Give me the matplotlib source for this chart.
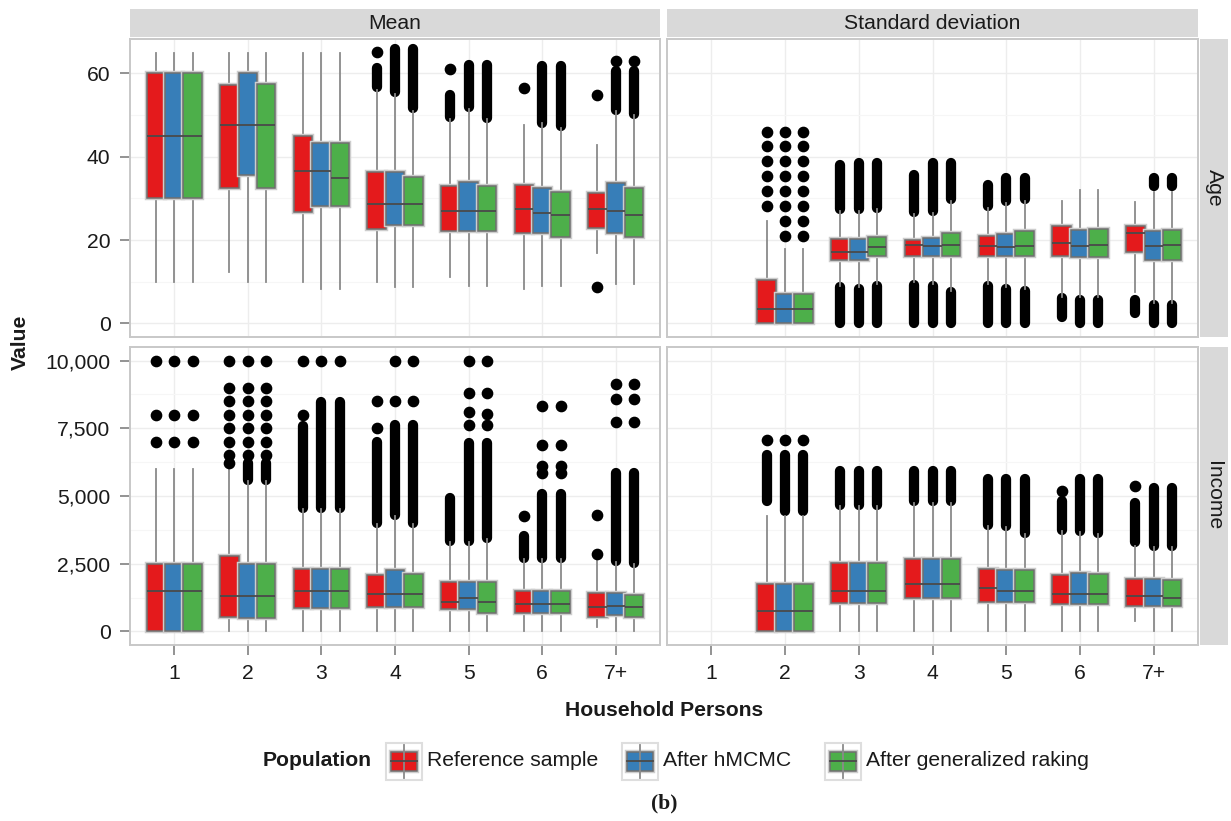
import matplotlib
matplotlib.use("Agg")
import matplotlib.pyplot as plt
from matplotlib.patches import Rectangle
from matplotlib.ticker import FuncFormatter
import matplotlib.patheffects as pe

plt.rcParams['font.family'] = ['Liberation Sans', 'DejaVu Sans']

# ---------------- data ----------------
categories = ["1", "2", "3", "4", "5", "6", "7+"]
series_names = ["Reference sample", "After hMCMC", "After generalized raking"]
series_colors = ["#E41A1C", "#377EB8", "#4DAF4A"]
col_labels = ["Mean", "Standard deviation"]
row_labels = ["Age", "Income"]
age_ticks = [0, 20, 40, 60]
income_ticks = [0, 2500, 5000, 7500, 10000]

# box stats per category: (lower whisker, Q1, median, Q3, upper whisker)
age_mean_ref_box = [(10, 30, 45, 60, 65), (12.3, 32.5, 47.6, 57.3, 65), (10, 26.8, 36.6, 45, 65),
                    (10, 22.6, 28.7, 36.3, 56), (11.1, 22.1, 26.9, 32.9, 49), (8.3, 21.6, 27.5, 33.2, 47.6),
                    (17, 23.0, 27.5, 31.4, 42.9)]
age_mean_ref_pts = [[], [], [], [65.1], [61.1], [56.6], [54.8, 8.7]]
age_mean_ref_runs = [[], [], [], [(56.8, 61.3)], [(49.5, 54.8)], [], []]

age_mean_hm_box = [(10, 30, 45, 60, 65), (9.9, 35.6, 47.6, 60, 65), (8.3, 28.2, 36.6, 43.3, 65),
                   (8.7, 23.7, 28.7, 36.3, 55), (9.1, 22.1, 26.9, 34.0, 51.5), (9.1, 21.6, 26.5, 32.5, 48),
                   (9.5, 21.6, 27.0, 33.6, 51)]
age_mean_hm_pts = [[], [], [], [], [], [], [62.9]]
age_mean_hm_runs = [[], [], [], [(55.5, 65.9)], [(52, 62.1)], [(48.2, 61.7)], [(51.2, 60.5)]]

age_mean_rk_box = [(10, 30, 45, 60, 65), (10, 32.4, 47.6, 57.5, 65), (8.3, 28.2, 34.9, 43.3, 65),
                   (8.7, 23.7, 28.7, 35.1, 51), (9.1, 22.1, 26.9, 32.9, 49), (9.1, 20.8, 26.0, 31.6, 47),
                   (9.5, 20.8, 26.0, 32.5, 50)]
age_mean_rk_pts = [[], [], [], [], [], [], [62.9]]
age_mean_rk_runs = [[], [], [], [(51.6, 65.9)], [(49.2, 62.1)], [(47.4, 61.7)], [(50.2, 60.5)]]

age_sd_ref_box = [None, (0, 0, 3.4, 10.5, 24.6), (9.1, 15.2, 17.2, 20.2, 27.0), (9.9, 16.3, 18.8, 20.1, 26.2),
                  (9.5, 16.1, 18.5, 21.0, 27.8), (6.3, 16.3, 19.3, 23.3, 29.4), (7.5, 17.1, 21.6, 23.3, 29.2)]
age_sd_ref_pts = [[], [28.2, 31.7, 35.3, 38.9, 42.5, 46.0], [], [], [], [], []]
age_sd_ref_runs = [[], [], [(0, 8.7), (27.5, 38.1)], [(0, 9.3), (26.8, 35.7)], [(0, 9.0), (28.2, 33.3)],
                   [(1.6, 6.0)], [(2.4, 5.6)]]

age_sd_hm_box = [None, (0, 0, 3.4, 7.0, 17.9), (8.7, 15.2, 17.2, 20.2, 27.0), (9.5, 16.1, 18.5, 20.5, 26.6),
                 (8.7, 16.3, 18.3, 21.4, 29.0), (6.3, 15.9, 18.7, 22.5, 32.1), (4.8, 15.2, 18.7, 22.1, 31.5)]
age_sd_hm_pts = [[], [21.0, 24.6, 28.2, 31.7, 35.3, 38.9, 42.5, 46.0], [], [], [], [], []]
age_sd_hm_runs = [[], [], [(0, 8.3), (27.4, 38.5)], [(0, 9.1), (27.0, 38.5)], [(0, 8.3), (29.4, 34.9)],
                  [(0, 5.6)], [(0, 4.4), (33.0, 34.9)]]

age_sd_rk_box = [None, (0, 0, 3.4, 7.0, 17.9), (9.5, 16.1, 18.3, 20.8, 27.4), (7.9, 16.1, 18.8, 21.6, 29.4),
                 (8.3, 16.3, 18.7, 22.1, 29.4), (6.3, 15.9, 18.8, 22.6, 32.1), (4.8, 15.2, 18.8, 22.5, 31.5)]
age_sd_rk_pts = [[], [21.0, 24.6, 28.2, 31.7, 35.3, 38.9, 42.5, 46.0], [], [], [], [], []]
age_sd_rk_runs = [[], [], [(0, 9.1), (27.8, 38.5)], [(0, 7.5), (29.8, 38.5)], [(0, 7.9), (29.8, 34.9)],
                  [(0, 5.6)], [(0, 4.4), (33.0, 34.9)]]

inc_mean_ref_box = [(0, 0, 1500, 2500, 6000), (0, 550, 1300, 2770, 6100), (0, 850, 1500, 2320, 4510),
                    (0, 915, 1380, 2100, 3960), (0, 830, 1070, 1830, 3290), (0, 670, 1010, 1500, 2680),
                    (180, 550, 890, 1430, 2620)]
inc_mean_ref_pts = [[7000, 8000, 10000], [6200, 6500, 7000, 7500, 8000, 8500, 9000, 10000], [8000, 10000],
                    [7500, 8500], [], [4270], [2870, 4300]]
inc_mean_ref_runs = [[], [], [(4550, 7600)], [(4000, 7000)], [(3330, 4940)], [(2720, 3540)], []]

inc_mean_hm_box = [(0, 0, 1500, 2500, 6000), (0, 490, 1300, 2500, 5550), (0, 850, 1500, 2320, 4510),
                   (0, 915, 1380, 2260, 4270), (0, 830, 1240, 1830, 3290), (0, 670, 1010, 1500, 2680),
                   (0, 610, 950, 1430, 2560)]
inc_mean_hm_pts = [[7000, 8000, 10000], [6500, 7000, 7500, 8000, 8500, 9000, 10000], [10000], [8500, 10000],
                   [7620, 8110, 8800, 10000], [5850, 6100, 6900, 8320], [7740, 8570, 9150]]
inc_mean_hm_runs = [[], [(5600, 6200)], [(4550, 8480)], [(4300, 7620)], [(3330, 6950)], [(2720, 5060)],
                    [(2600, 5850)]]

inc_mean_rk_box = [(0, 0, 1500, 2500, 6000), (0, 490, 1300, 2500, 5550), (0, 850, 1500, 2320, 4510),
                   (0, 915, 1380, 2130, 3960), (0, 670, 1070, 1830, 3410), (0, 670, 1010, 1500, 2680),
                   (0, 550, 890, 1340, 2500)]
inc_mean_rk_pts = [[7000, 8000, 10000], [6500, 7000, 7500, 8000, 8500, 9000, 10000], [10000], [8500, 10000],
                   [7620, 8010, 8800, 10000], [5850, 6100, 6900, 8320], [7740, 8570, 9150]]
inc_mean_rk_runs = [[], [(5600, 6200)], [(4550, 8480)], [(4000, 7620)], [(3450, 6950)], [(2720, 5060)],
                    [(2540, 5850)]]

inc_sd_ref_box = [None, (0, 0, 760, 1770, 4270), (0, 1040, 1500, 2520, 4630), (0, 1220, 1770, 2680, 4760),
                  (0, 1070, 1590, 2320, 3900), (0, 1010, 1380, 2100, 3720), (370, 950, 1300, 1930, 3170)]
inc_sd_ref_pts = [[], [7070], [], [], [], [5180], [5370]]
inc_sd_ref_runs = [[], [(4820, 6520)], [(4680, 5920)], [(4800, 5920)], [(3940, 5610)], [(3760, 4820)],
                   [(3290, 4760)]]

inc_sd_hm_box = [None, (0, 0, 760, 1770, 4270), (0, 1040, 1500, 2520, 4630), (0, 1220, 1770, 2680, 4760),
                 (0, 1070, 1500, 2260, 3840), (0, 1010, 1380, 2160, 3660), (0, 950, 1300, 1930, 3110)]
inc_sd_hm_pts = [[], [7070], [], [], [], [], []]
inc_sd_hm_runs = [[], [(4450, 6520)], [(4680, 5920)], [(4800, 5920)], [(3880, 5610)], [(3700, 5610)],
                  [(3150, 5300)]]

inc_sd_rk_box = [None, (0, 0, 760, 1770, 4270), (0, 1040, 1500, 2520, 4630), (0, 1220, 1770, 2680, 4760),
                 (0, 1070, 1500, 2260, 3600), (0, 1010, 1380, 2110, 3600), (0, 950, 1240, 1890, 3110)]
inc_sd_rk_pts = [[], [7070], [], [], [], [], []]
inc_sd_rk_runs = [[], [(4450, 6520)], [(4680, 5920)], [(4800, 5920)], [(3640, 5610)], [(3640, 5610)],
                  [(3150, 5300)]]

panels = {
    (0, 0): ([age_mean_ref_box, age_mean_hm_box, age_mean_rk_box],
             [age_mean_ref_pts, age_mean_hm_pts, age_mean_rk_pts],
             [age_mean_ref_runs, age_mean_hm_runs, age_mean_rk_runs]),
    (0, 1): ([age_sd_ref_box, age_sd_hm_box, age_sd_rk_box],
             [age_sd_ref_pts, age_sd_hm_pts, age_sd_rk_pts],
             [age_sd_ref_runs, age_sd_hm_runs, age_sd_rk_runs]),
    (1, 0): ([inc_mean_ref_box, inc_mean_hm_box, inc_mean_rk_box],
             [inc_mean_ref_pts, inc_mean_hm_pts, inc_mean_rk_pts],
             [inc_mean_ref_runs, inc_mean_hm_runs, inc_mean_rk_runs]),
    (1, 1): ([inc_sd_ref_box, inc_sd_hm_box, inc_sd_rk_box],
             [inc_sd_ref_pts, inc_sd_hm_pts, inc_sd_rk_pts],
             [inc_sd_ref_runs, inc_sd_hm_runs, inc_sd_rk_runs]),
}

# ---------------- layout ----------------
W, H = 1231, 821
fig = plt.figure(figsize=(W / 100, H / 100), dpi=100)
fig.patch.set_facecolor("white")


def rect(x0, y0, x1, y1):
    return [x0 / W, 1 - y1 / H, (x1 - x0) / W, (y1 - y0) / H]


cols_px = [(130, 660), (667, 1198)]
rows_px = [(39, 337), (347, 645)]
strip_top = (9, 37)
strip_right = (1200, 1228)

FS = 15.2
GRID_MAJ = "#ededed"
GRID_MIN = "#f6f6f6"
BORDER = "#c8c8c8"
STRIP = "#d9d9d9"
EDGE = "#6f6f6f"
WHISK = "#8a8a8a"
MED = "#4a4a4a"
BW = 0.25
OFFS = [-0.25, 0.0, 0.25]
PT = 7.4

ylims = [(-3.25, 68.25), (-500, 10500)]
yticks = [age_ticks, income_ticks]

for r in range(2):
    for c in range(2):
        x0, x1 = cols_px[c]
        y0, y1 = rows_px[r]
        ax = fig.add_axes(rect(x0, y0, x1, y1))
        ax.set_facecolor("white")
        boxes, pts, runs = panels[(r, c)]
        for s in range(3):
            stats, pos = [], []
            for i in range(len(categories)):
                b = boxes[s][i]
                if b is None:
                    continue
                lo, q1, med, q3, hi = b
                x = i + 1 + OFFS[s]
                stats.append(dict(whislo=lo, q1=q1, med=med, q3=q3, whishi=hi, fliers=pts[s][i]))
                pos.append(x)
                for a, bb in runs[s][i]:
                    ax.plot([x, x], [a, bb], color="black", lw=PT, solid_capstyle="round", zorder=2)
            res = ax.bxp(stats, positions=pos, widths=BW, patch_artist=True, showcaps=False,
                         manage_ticks=False, zorder=3,
                         boxprops=dict(facecolor=series_colors[s], edgecolor=EDGE, linewidth=1.1),
                         whiskerprops=dict(color=WHISK, linewidth=1.3),
                         medianprops=dict(color=MED, linewidth=1.3),
                         flierprops=dict(marker="o", markerfacecolor="black", markeredgecolor="black",
                                         markersize=PT, linestyle="none"))
            for p in res["boxes"]:
                p.set_path_effects([pe.Stroke(linewidth=3.2, foreground="#cdcdcd"), pe.Normal()])
            for w in res["whiskers"]:
                w.set_zorder(2.5)
        ax.set_xlim(0.4, 7.6)
        ax.set_ylim(*ylims[r])
        ax.set_xticks(range(1, len(categories) + 1))
        ax.set_xticklabels(categories)
        ax.set_yticks(yticks[r])
        t = yticks[r]
        ax.set_yticks([(t[k] + t[k + 1]) / 2 for k in range(len(t) - 1)], minor=True)
        ax.grid(which="major", color=GRID_MAJ, lw=1.0, zorder=0)
        ax.grid(which="minor", axis="y", color=GRID_MIN, lw=0.8, zorder=0)
        ax.set_axisbelow(True)
        if r == 1:
            ax.yaxis.set_major_formatter(FuncFormatter(lambda v, p: f"{int(v):,}"))
        for sp in ax.spines.values():
            sp.set_color(BORDER)
            sp.set_linewidth(1.4)
        ax.tick_params(which="minor", length=0)
        ax.tick_params(axis="both", which="major", length=7, width=1.3, color="#8a8a8a",
                       labelsize=FS, labelcolor="#1a1a1a", pad=7)
        if c == 1:
            ax.tick_params(axis="y", left=False, labelleft=False)
        if r == 0:
            ax.tick_params(axis="x", bottom=False, labelbottom=False)

# strips
for c in range(2):
    x0, x1 = cols_px[c]
    sax = fig.add_axes(rect(x0, strip_top[0], x1, strip_top[1]))
    sax.set_facecolor(STRIP)
    sax.set_xticks([]); sax.set_yticks([])
    for sp in sax.spines.values():
        sp.set_visible(False)
    sax.text(0.5, 0.48, col_labels[c], ha="center", va="center", fontsize=FS, color="#1a1a1a",
             transform=sax.transAxes)
for r in range(2):
    y0, y1 = rows_px[r]
    sax = fig.add_axes(rect(strip_right[0], y0, strip_right[1], y1))
    sax.set_facecolor(STRIP)
    sax.set_xticks([]); sax.set_yticks([])
    for sp in sax.spines.values():
        sp.set_visible(False)
    sax.text(0.5, 0.5, row_labels[r], ha="center", va="center", fontsize=FS, color="#1a1a1a",
             rotation=-90, transform=sax.transAxes)

# overlay for titles / legend
lax = fig.add_axes([0, 0, 1, 1], zorder=-1)
lax.set_xlim(0, W)
lax.set_ylim(H, 0)
lax.axis("off")

lax.text((cols_px[0][0] + cols_px[1][1]) / 2, 710, "Household Persons", ha="center", va="center",
         fontsize=FS, fontweight="bold", color="#1a1a1a")
lax.text(20, (rows_px[0][0] + rows_px[1][1]) / 2, "Value", ha="center", va="center", rotation=90,
         fontsize=FS, fontweight="bold", color="#1a1a1a")

lax.text(263, 761, "Population", ha="left", va="center", fontsize=FS, fontweight="bold", color="#1a1a1a")
key_x = [386, 622, 825]
for s in range(3):
    kx = key_x[s]
    lax.add_patch(Rectangle((kx, 743), 36, 37, facecolor="white", edgecolor="#dedede", lw=1.5))
    lax.plot([kx + 18, kx + 18], [745, 778], color=WHISK, lw=1.3)
    lax.add_patch(Rectangle((kx + 5, 752), 26, 19, facecolor=series_colors[s], edgecolor=EDGE, lw=1.1,
                            path_effects=[pe.Stroke(linewidth=3.2, foreground="#cdcdcd"), pe.Normal()]))
    lax.plot([kx + 5, kx + 31], [761.5, 761.5], color=MED, lw=1.3)
    lax.text(kx + 41, 761, series_names[s], ha="left", va="center", fontsize=FS, color="#1a1a1a")

lax.text(664, 803, "(b)", ha="center", va="center", fontsize=15.5, fontweight="bold",
         family="Liberation Serif", color="#1a1a1a")

fig.savefig("out.png", dpi=100, facecolor="white")
